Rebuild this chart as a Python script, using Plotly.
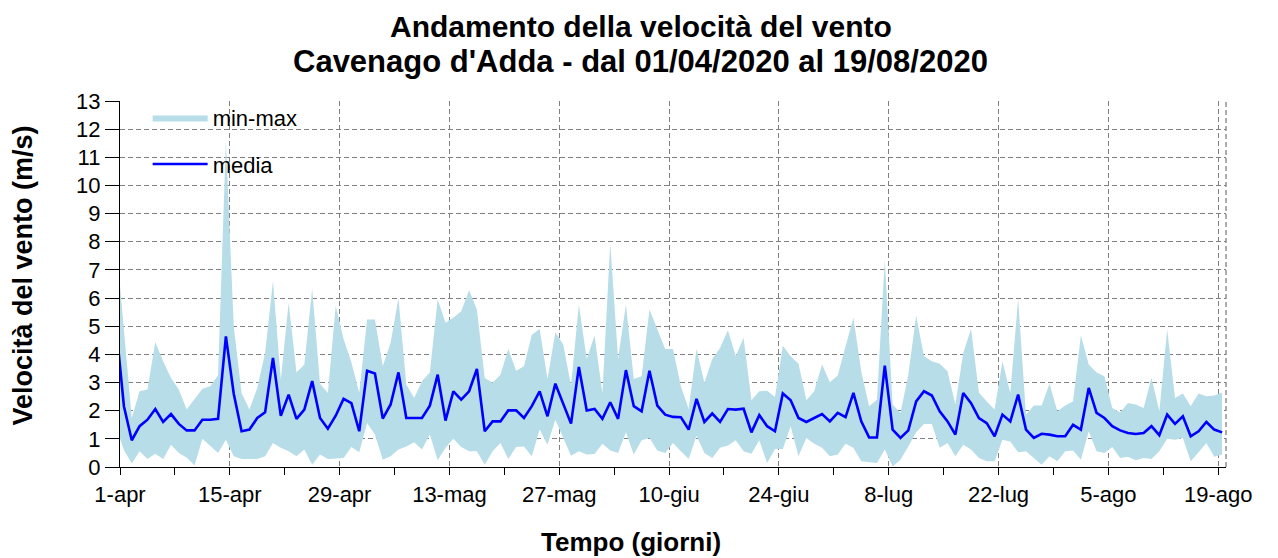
import pandas as pd
import plotly.graph_objects as go

# one value per day, 31-mar .. 19-ago (the first day is mostly clipped by the axis)
days = pd.date_range("2020-03-31 12:00", "2020-08-19 12:00", freq="D")

media = [5.0,
         2.16, 0.95, 1.45, 1.68, 2.06, 1.60, 1.88, 1.53, 1.30, 1.30, 1.68, 1.68, 1.71, 4.64, 2.60, 1.27, 1.33,
         1.74, 1.94, 3.87, 1.82, 2.57, 1.71, 2.04, 3.05, 1.74, 1.36, 1.82, 2.42, 2.27, 1.27, 3.42, 3.32, 1.72, 2.22,
         3.36, 1.74, 1.74, 1.74, 2.18, 3.28, 1.65, 2.69, 2.39, 2.69, 3.48, 1.27, 1.62, 1.62, 2.01, 2.01, 1.74, 2.16,
         2.69, 1.80, 2.96, 2.27, 1.54, 3.55, 2.01, 2.06, 1.71, 2.30, 1.71, 3.44, 2.16, 1.98, 3.42, 2.18, 1.86, 1.78,
         1.77, 1.33, 2.42, 1.60, 1.90, 1.60, 2.06, 2.04, 2.07, 1.23, 1.84, 1.45, 1.27, 2.61, 2.37, 1.74, 1.60, 1.74,
         1.88, 1.62, 1.92, 1.77, 2.63, 1.62, 1.05, 1.05, 3.60, 1.33, 1.03, 1.30, 2.33, 2.69, 2.54, 1.98, 1.62,
         1.15, 2.63, 2.27, 1.74, 1.56, 1.09, 1.86, 1.62, 2.57, 1.33, 1.03, 1.18, 1.15, 1.09, 1.09, 1.50, 1.33, 2.81,
         1.92, 1.74, 1.45, 1.30, 1.21, 1.17, 1.21, 1.45, 1.13, 1.86, 1.53, 1.80, 1.09, 1.27, 1.60, 1.33, 1.23]

vmax = [8.0,
        4.85, 1.74, 2.69, 2.75, 4.44, 3.76, 3.16, 2.75, 2.04, 2.39, 2.78, 2.87, 3.25, 11.57, 5.00, 2.63, 2.04,
        2.81, 4.05, 6.60, 3.10, 5.83, 3.36, 3.64, 6.33, 2.96, 2.63, 5.73, 4.55, 3.72, 2.63, 5.24, 5.24, 3.58, 4.41,
        6.00, 2.93, 2.45, 3.05, 3.36, 5.95, 5.12, 5.30, 5.53, 6.28, 5.59, 3.16, 2.99, 3.28, 4.19, 3.42, 3.58, 4.70,
        4.90, 3.13, 4.79, 4.35, 2.89, 5.77, 3.84, 4.67, 2.61, 7.96, 3.84, 5.77, 3.13, 3.22, 5.59, 4.88, 4.19, 4.19,
        2.87, 2.06, 4.19, 2.99, 3.84, 4.23, 4.86, 3.93, 4.59, 2.37, 2.69, 2.71, 2.49, 4.31, 3.93, 3.67, 2.37, 2.69,
        3.64, 3.01, 3.25, 4.29, 5.30, 3.40, 2.16, 2.39, 7.37, 2.22, 1.92, 3.28, 5.38, 3.93, 3.76, 3.67, 3.40,
        2.22, 4.05, 4.90, 2.65, 2.33, 2.04, 3.76, 2.63, 5.97, 1.86, 2.18, 2.18, 2.96, 1.98, 2.18, 2.33, 4.67, 3.64,
        3.36, 3.22, 2.10, 1.94, 2.27, 2.22, 2.10, 3.16, 1.98, 4.88, 2.45, 2.61, 2.16, 2.61, 2.51, 2.54, 2.65]

vmin = [1.4,
        0.60, 0.12, 0.56, 0.28, 0.47, 0.28, 0.79, 0.50, 0.34, 0.05, 1.00, 0.76, 0.50, 0.97, 0.38, 0.28, 0.28,
        0.28, 0.38, 0.85, 0.68, 0.56, 0.38, 0.62, 0.08, 0.44, 0.28, 0.30, 0.32, 0.71, 0.52, 1.56, 1.15, 0.26, 0.38,
        0.62, 0.73, 0.88, 0.62, 1.15, 0.24, 0.68, 1.00, 0.71, 0.56, 0.56, 0.08, 0.56, 0.85, 0.28, 0.71, 0.73, 0.38,
        1.33, 0.79, 1.68, 1.03, 0.40, 0.56, 0.44, 0.46, 0.83, 0.59, 0.50, 1.23, 0.44, 0.95, 1.03, 0.59, 0.50, 0.85,
        0.56, 0.28, 1.11, 0.50, 0.32, 0.68, 0.76, 0.95, 0.56, 0.47, 0.95, 0.14, 0.64, 0.64, 1.45, 0.38, 1.03, 0.83,
        0.68, 0.38, 0.44, 0.83, 0.68, 0.20, 0.17, 0.14, 0.62, 0.02, 0.26, 0.73, 1.23, 1.53, 1.53, 0.68, 0.85,
        0.38, 0.79, 0.62, 0.32, 0.20, 0.20, 0.97, 0.91, 0.52, 0.56, 0.32, 0.08, 0.38, 0.20, 0.56, 0.59, 0.26, 1.27,
        0.56, 0.50, 0.71, 0.32, 0.36, 0.24, 0.32, 0.28, 0.56, 1.00, 0.97, 1.03, 0.20, 0.52, 0.85, 0.36, 0.44]

tick_dates = pd.date_range("2020-04-01", "2020-08-19", freq="14D")
tick_labels = ["1-apr", "15-apr", "29-apr", "13-mag", "27-mag", "10-giu",
               "24-giu", "8-lug", "22-lug", "5-ago", "19-ago"]
minor_dates = pd.date_range("2020-04-08", "2020-08-12", freq="14D")

title_1 = "Andamento della velocità del vento"
title_2 = "Cavenago d'Adda - dal 01/04/2020 al 19/08/2020"

x = list(days)
fig = go.Figure()
fig.add_trace(go.Scatter(
    x=x + x[::-1], y=vmax + vmin[::-1],
    fill="toself", fillcolor="rgb(183,221,232)",
    line=dict(width=0), mode="lines", name="min-max",
    legendgroup="a", hoverinfo="skip"))
fig.add_trace(go.Scatter(
    x=x, y=media, mode="lines", name="media",
    line=dict(color="#0000ff", width=2.6), legendgroup="b"))

grid = dict(showgrid=True, gridcolor="#808080", griddash="5px,3px", gridwidth=1.3)
fig.update_xaxes(
    type="date", range=["2020-04-01", "2020-08-20"],
    tickmode="array", tickvals=list(tick_dates), ticktext=tick_labels,
    ticks="outside", ticklen=7, tickcolor="black",
    minor=dict(tickmode="array", tickvals=list(minor_dates), ticks="outside",
               ticklen=7, tickcolor="black", showgrid=False),
    showline=True, linecolor="black", linewidth=1.3,
    tickfont=dict(family="Liberation Sans, Arial", size=22, color="black"),
    zeroline=False, **grid)
fig.update_yaxes(
    range=[0, 13], dtick=1, ticks="outside", ticklen=14, tickcolor="black",
    showline=True, linecolor="black", linewidth=1.3,
    tickfont=dict(family="Liberation Sans, Arial", size=22, color="black"),
    zeroline=False, **grid)

# the page body adds an 8px margin, so the figure is 8px smaller than the window
fig.update_layout(
    width=1270, height=550,
    margin=dict(l=112, r=52, t=93, b=91),
    paper_bgcolor="white", plot_bgcolor="white",
    font=dict(family="Liberation Sans, Arial", color="black"),
    legend=dict(x=0.025, y=1.012, xanchor="left", yanchor="top",
                bgcolor="rgba(0,0,0,0)", font=dict(size=22),
                itemwidth=55, tracegroupgap=15),
    showlegend=True,
    annotations=[
        dict(text="<b>" + title_1 + "</b>", xref="paper", yref="paper",
             x=0.471, y=1.203, xanchor="center", yanchor="middle",
             showarrow=False, font=dict(size=30)),
        dict(text="<b>" + title_2 + "</b>", xref="paper", yref="paper",
             x=0.471, y=1.109, xanchor="center", yanchor="middle",
             showarrow=False, font=dict(size=31)),
        dict(text="<b>Tempo (giorni)</b>", xref="paper", yref="paper",
             x=0.462, y=-0.205, xanchor="center", yanchor="middle",
             showarrow=False, font=dict(size=26)),
        dict(text="<b>Velocità del vento (m/s)</b>", xref="paper", yref="paper",
             x=-0.088, y=0.522, xanchor="center", yanchor="middle",
             textangle=-90, showarrow=False, font=dict(size=27)),
    ],
    shapes=[dict(type="line", xref="paper", yref="paper", x0=1, x1=1, y0=0, y1=1,
                 line=dict(color="#808080", width=1.3, dash="5px,3px"))],
)

fig.write_html("out.html")
